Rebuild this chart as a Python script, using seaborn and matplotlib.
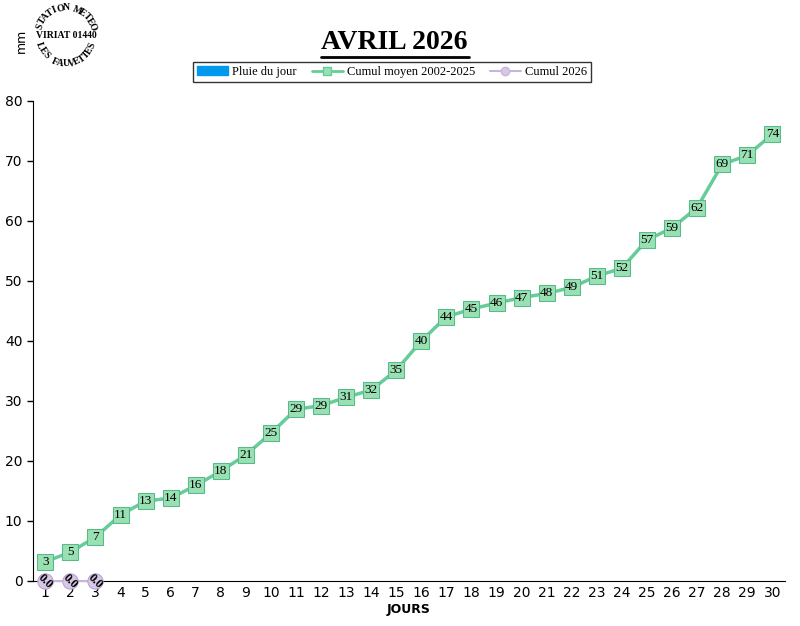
import numpy as np
import pandas as pd
import matplotlib
matplotlib.use("Agg")
import matplotlib.pyplot as plt
import seaborn as sns

days = list(range(1, 31))
cumul_moyen = [3.2, 4.8, 7.3, 11.0, 13.3, 13.8, 15.9, 18.3, 21.0, 24.6, 28.6, 29.2, 30.6, 31.8, 35.1,
               40.0, 44.0, 45.3, 46.3, 47.2, 47.9, 48.9, 50.8, 52.1, 56.8, 58.8, 62.2, 69.4, 70.9, 74.4]
cumul_2026_days = [1, 2, 3]
cumul_2026 = [0.0, 0.0, 0.0]
pluie_jour = [0.0, 0.0, 0.0]

sns.set_style("white")
plt.rcParams['font.family'] = ['Liberation Serif', 'DejaVu Serif']
plt.rcParams['text.color'] = 'black'
plt.rcParams['xtick.color'] = 'black'
plt.rcParams['ytick.color'] = 'black'
plt.rcParams['axes.labelcolor'] = 'black'

fig = plt.figure(figsize=(8, 6.26), dpi=100)
ax = fig.add_axes([0.041, 0.072, 0.94, 0.767])

df = pd.DataFrame({"day": days, "moyen": cumul_moyen})
sns.lineplot(data=df, x="day", y="moyen", ax=ax, color="#66cc99", lw=2.5, marker="s",
             markersize=11, markerfacecolor="#99e0b3", markeredgecolor="#55bb88", zorder=3)
for d, v in zip(days, cumul_moyen):
    ax.text(d, v, f"{v:.0f}", ha="center", va="center", fontsize=9.5, zorder=4)

df2 = pd.DataFrame({"day": cumul_2026_days, "c": cumul_2026})
sns.lineplot(data=df2, x="day", y="c", ax=ax, color="#c8b4dc", lw=1.5, marker="o",
             markersize=11, markerfacecolor="#d8c8e8", markeredgecolor="#b8a0d0", zorder=5, clip_on=False)
for d, v in zip(cumul_2026_days, cumul_2026):
    ax.text(d, v, f"{v:.1f}", ha="center", va="center", fontsize=9, rotation=-45, zorder=6,
            fontweight="bold")
ax.bar(cumul_2026_days, pluie_jour, color="#0099ee", width=0.6)

ax.set_xlim(0.5, 30.5)
ax.set_ylim(0, 80)
ax.set_xticks(days)
ax.set_yticks(range(0, 81, 10))
for lab in ax.get_xticklabels() + ax.get_yticklabels():
    lab.set_fontfamily("DejaVu Sans")
    lab.set_fontsize(10)
ax.tick_params(axis="both", direction="out", length=4, width=1, left=True, bottom=True)
ax.set_xticks(np.arange(0.5, 31, 1), minor=True)
ax.tick_params(axis="x", which="major", length=0)
ax.tick_params(axis="x", which="minor", length=5, direction="inout")
for s in ["top", "right"]:
    ax.spines[s].set_visible(False)
for s in ["left", "bottom"]:
    ax.spines[s].set_color("black")
ax.set_xlabel("JOURS", fontsize=9, fontweight="bold", fontfamily="DejaVu Sans", labelpad=2)
ax.set_ylabel("")
fig.text(0.027, 0.935, "mm", rotation=90, fontsize=9, fontfamily="DejaVu Sans", ha="center", va="center")

fig.text(0.493, 0.932, "AVRIL 2026", fontsize=20, fontweight="bold", ha="center", va="center")
fig.add_artist(plt.Line2D([0.401, 0.586], [0.909, 0.909], color="black", lw=2))

from matplotlib.lines import Line2D
from matplotlib.patches import Patch
handles = [Patch(color="#0099ee"),
           Line2D([], [], color="#66cc99", lw=2, marker="s", markerfacecolor="#99e0b3", markersize=6),
           Line2D([], [], color="#c8b4dc", lw=1.5, marker="o", markerfacecolor="#d8c8e8", markersize=6)]
leg = fig.legend(handles, ["Pluie du jour", "Cumul moyen 2002-2025", "Cumul 2026"], ncol=3,
                 loc="center", bbox_to_anchor=(0.49, 0.885), fontsize=9, frameon=True, fancybox=False,
                 edgecolor="black", handlelength=2.5, columnspacing=1.2, borderpad=0.35, handletextpad=0.3)
leg.get_frame().set_linewidth(1)

# logo: circular text
cx, cy, r = 66, 36, 28
def arc_text(txt, start, end, top=True):
    angs = np.linspace(start, end, len(txt))
    for ch, a in zip(txt, angs):
        x = cx + r * np.cos(np.radians(a)); y = cy - r * np.sin(np.radians(a))
        rot = a - 90 if top else a + 90
        fig.text(x / 800, 1 - y / 626, ch, fontsize=7, fontweight="bold", rotation=rot,
                 ha="center", va="center")
arc_text("STATION METEO", 160, 20, True)
arc_text("LES FAUVETTES", 200, 340, False)
fig.text(cx / 800, 1 - cy / 626, "VIRIAT 01440", fontsize=7, fontweight="bold", ha="center", va="center")

fig.savefig("out.png", dpi=100)
